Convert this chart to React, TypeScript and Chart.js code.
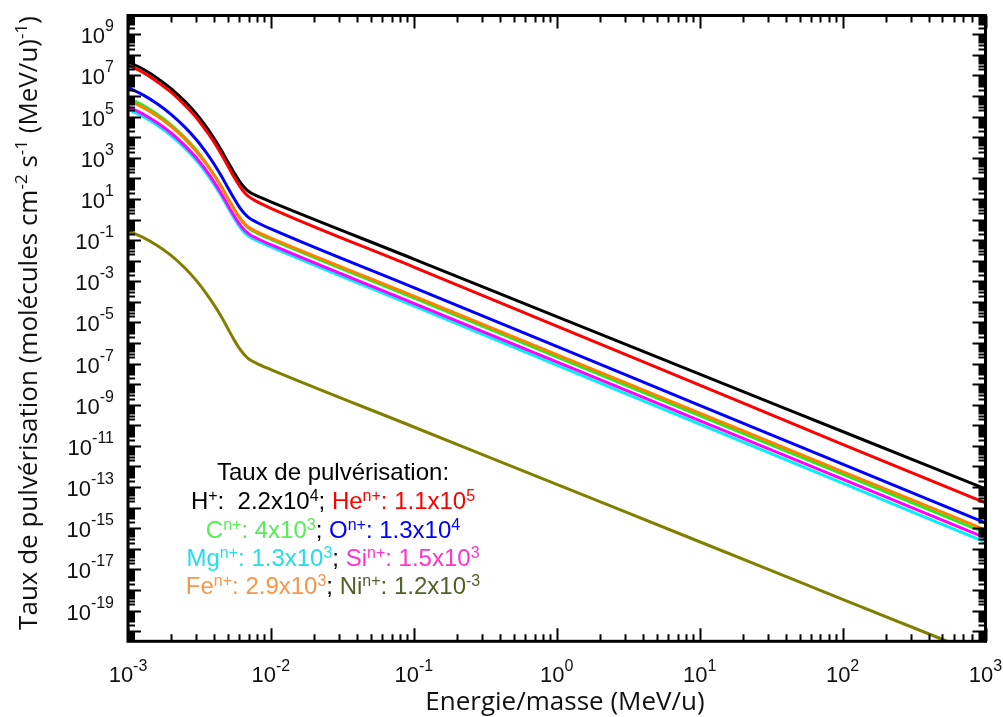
import React, { useEffect, useRef } from "react";
import { Chart, registerables } from "chart.js";

Chart.register(...registerables);

// ---------- data ----------
const energies = [1e-3, 1.3e-3, 1.6e-3, 2e-3, 2.5e-3, 3e-3, 3.5e-3, 4e-3, 4.5e-3, 5e-3, 5.5e-3, 6e-3, 6.5e-3, 7e-3, 8e-3, 1e-2, 1e-1, 1, 10, 100, 1000];

const rateH = [4.7e7, 1.9e7, 7.4e6, 2.3e6, 5.5e5, 1.4e5, 3.5e4, 8.9e3, 2.3e3, 6.3e2, 2.0e2, 7.6e1, 3.7e1, 2.3e1, 1.4e1, 7.2, 1.2e-2, 1.9e-5, 3.1e-8, 5.0e-11, 8.1e-14];
const rateHe = [3.2e7, 1.3e7, 5.0e6, 1.55e6, 3.6e5, 9.1e4, 2.2e4, 5.8e3, 1.5e3, 4.0e2, 1.2e2, 4.6e1, 2.1e1, 1.3e1, 7.4, 3.5, 4.9e-3, 6.6e-6, 8.9e-9, 1.2e-11, 1.7e-14];
const rateC = [8.3e5, 3.3e5, 1.3e5, 4.0e4, 9.5e3, 2.4e3, 5.9e2, 1.5e2, 4.0e1, 1.05e1, 3.3, 1.23, 6.0e-1, 3.7e-1, 2.2e-1, 1.1e-1, 1.55e-4, 2.1e-7, 3.0e-10, 4.2e-13, 5.9e-16];
const rateO = [2.6e6, 1.05e6, 4.2e5, 1.3e5, 3.1e4, 7.8e3, 1.95e3, 5.0e2, 1.3e2, 3.5e1, 1.1e1, 4.1, 2.0, 1.23, 7.2e-1, 3.5e-1, 4.9e-4, 6.8e-7, 9.3e-10, 1.3e-12, 1.8e-15];
const rateMg = [2.3e5, 9.3e4, 3.8e4, 1.2e4, 2.95e3, 7.6e2, 1.95e2, 5.1e1, 1.4e1, 3.8, 1.23, 4.8e-1, 2.4e-1, 1.55e-1, 9.3e-2, 4.7e-2, 6.3e-5, 8.5e-8, 1.15e-10, 1.55e-13, 2.1e-16];
const rateSi = [3.0e5, 1.23e5, 5.0e4, 1.6e4, 3.9e3, 1.0e3, 2.6e2, 6.8e1, 1.8e1, 5.0, 1.6, 6.3e-1, 3.2e-1, 2.0e-1, 1.2e-1, 6.0e-2, 8.5e-5, 1.2e-7, 1.7e-10, 2.4e-13, 3.4e-16];
const rateFe = [6.5e5, 2.6e5, 1.07e5, 3.4e4, 8.3e3, 2.1e3, 5.5e2, 1.45e2, 3.9e1, 1.07e1, 3.5, 1.35, 6.6e-1, 4.2e-1, 2.5e-1, 1.26e-1, 1.9e-4, 2.7e-7, 3.9e-10, 5.6e-13, 8.3e-16];
const rateNi = [2.8e-1, 1.26e-1, 5.5e-2, 1.8e-2, 4.4e-3, 1.1e-3, 2.75e-4, 7.1e-5, 1.9e-5, 5.0e-6, 1.5e-6, 5.6e-7, 2.75e-7, 1.66e-7, 1.0e-7, 5.1e-8, 8.3e-11, 1.35e-13, 2.2e-16, 3.5e-19, 5.75e-22];

const seriesNames = ["H+", "He n+", "C n+", "O n+", "Mg n+", "Si n+", "Fe n+", "Ni n+"];
const seriesColors = ["#000000", "#ff0000", "#22ee22", "#0000ff", "#00f0ff", "#ff00ff", "#ff8000", "#808000"];
const seriesRates = [rateH, rateHe, rateC, rateO, rateMg, rateSi, rateFe, rateNi];

const X_MIN = 1e-3;
const X_MAX = 1e3;
const Y_MIN = 3.2e-21;
const Y_MAX = 8.2e9;

const xLabelExponents = [-3, -2, -1, 0, 1, 2, 3];
const yLabelExponents = [9, 7, 5, 3, 1, -1, -3, -5, -7, -9, -11, -13, -15, -17, -19];

const xTitle = "Energie/masse (MeV/u)";
const legendTitle = "Taux de pulvérisation:";

// ---------- rich text helper ----------
type Seg = { t: string; sup?: boolean; c?: string };

function drawRich(
  ctx: CanvasRenderingContext2D,
  segs: Seg[],
  x: number,
  y: number,
  align: "left" | "center" | "right",
  baseFont: string,
  supFont: string,
  rise: number,
  defColor = "#000"
) {
  ctx.textAlign = "left";
  ctx.textBaseline = "alphabetic";
  const widths = segs.map((s) => {
    ctx.font = s.sup ? supFont : baseFont;
    return ctx.measureText(s.t).width;
  });
  const total = widths.reduce((a, b) => a + b, 0);
  let sx = align === "left" ? x : align === "center" ? x - total / 2 : x - total;
  segs.forEach((s, i) => {
    ctx.font = s.sup ? supFont : baseFont;
    ctx.fillStyle = s.c || defColor;
    ctx.fillText(s.t, sx, s.sup ? y - rise : y);
    sx += widths[i];
  });
}

const supText = (e: number) => (e < 0 ? "-" + Math.abs(e) : String(e));

const framePlugin = {
  id: "frameTicks",
  afterDatasetsDraw(chart: any) {
    const { ctx, chartArea: a, scales } = chart;
    const xs = scales.x;
    const ys = scales.y;
    ctx.save();
    ctx.strokeStyle = "#000";
    ctx.lineWidth = 2;
    ctx.beginPath();
    for (let e = -3; e <= 3; e++) {
      for (let m = 1; m <= 9; m++) {
        const v = m * Math.pow(10, e);
        if (v < X_MIN * 0.999 || v > X_MAX * 1.001) continue;
        const px = Math.round(xs.getPixelForValue(v)) + 0.5;
        const len = m === 1 ? 13 : 7;
        ctx.moveTo(px, a.bottom);
        ctx.lineTo(px, a.bottom - len);
        ctx.moveTo(px, a.top);
        ctx.lineTo(px, a.top + len);
      }
    }
    for (let e = -21; e <= 9; e++) {
      for (let m = 1; m <= 9; m++) {
        const v = m * Math.pow(10, e);
        if (v < Y_MIN || v > Y_MAX) continue;
        const py = Math.round(ys.getPixelForValue(v)) + 0.5;
        const len = m === 1 ? 13 : 7;
        ctx.moveTo(a.left, py);
        ctx.lineTo(a.left + len, py);
        ctx.moveTo(a.right, py);
        ctx.lineTo(a.right - len, py);
      }
    }
    ctx.stroke();
    ctx.lineWidth = 3;
    ctx.strokeRect(a.left, a.top, a.right - a.left, a.bottom - a.top);
    ctx.restore();
  },
  afterDraw(chart: any) {
    const { ctx, scales } = chart;
    const xs = scales.x;
    const ys = scales.y;
    ctx.save();
    const tickFont = '22px "Liberation Sans", Arial, sans-serif';
    const tickSup = '16px "Liberation Sans", Arial, sans-serif';
    yLabelExponents.forEach((e) => {
      const py = ys.getPixelForValue(Math.pow(10, e));
      drawRich(ctx, [{ t: "10" }, { t: supText(e), sup: true }], 114, py + 9, "right", tickFont, tickSup, 12, "#111");
    });
    xLabelExponents.forEach((e) => {
      const px = xs.getPixelForValue(Math.pow(10, e));
      drawRich(ctx, [{ t: "10" }, { t: supText(e), sup: true }], px, 682, "center", tickFont, tickSup, 11, "#111");
    });
    const titleFont = '26px "Open Sans", "Noto Sans", sans-serif';
    const titleSup = '17px "Open Sans", "Noto Sans", sans-serif';
    drawRich(ctx, [{ t: xTitle }], 565, 710, "center", titleFont, titleSup, 0, "#111");
    ctx.save();
    ctx.translate(37, 323);
    ctx.rotate(-Math.PI / 2);
    drawRich(
      ctx,
      [
        { t: "Taux de pulvérisation (molécules cm" },
        { t: "-2", sup: true },
        { t: " s" },
        { t: "-1", sup: true },
        { t: " (MeV/u)" },
        { t: "-1", sup: true },
        { t: ")" },
      ],
      0,
      0,
      "center",
      titleFont,
      titleSup,
      10,
      "#111"
    );
    ctx.restore();
    // legend block
    const lf = '24px "Liberation Sans", Arial, sans-serif';
    const ls = '16px "Liberation Sans", Arial, sans-serif';
    const [cH, cHe, cC, cO, cMg, cSi, cFe] = ["#000", "#ff0000", "#55ee55", "#0000ff", "#22ddee", "#ff33cc", "#f79646"];
    const cNi = "#4f6228";
    const cx = 333;
    drawRich(ctx, [{ t: legendTitle }], cx, 480, "center", lf, ls, 8);
    drawRich(
      ctx,
      [
        { t: "H", c: cH }, { t: "+", sup: true, c: cH }, { t: ":  2.2x10", c: cH }, { t: "4", sup: true, c: cH }, { t: "; ", c: cH },
        { t: "He", c: cHe }, { t: "n+", sup: true, c: cHe }, { t: ": 1.1x10", c: cHe }, { t: "5", sup: true, c: cHe },
      ],
      cx, 509, "center", lf, ls, 8
    );
    drawRich(
      ctx,
      [
        { t: "C", c: cC }, { t: "n+", sup: true, c: cC }, { t: ": 4x10", c: cC }, { t: "3", sup: true, c: cC }, { t: "; ", c: "#000" },
        { t: "O", c: cO }, { t: "n+", sup: true, c: cO }, { t: ": 1.3x10", c: cO }, { t: "4", sup: true, c: cO },
      ],
      cx, 538, "center", lf, ls, 8
    );
    drawRich(
      ctx,
      [
        { t: "Mg", c: cMg }, { t: "n+", sup: true, c: cMg }, { t: ": 1.3x10", c: cMg }, { t: "3", sup: true, c: cMg }, { t: "; ", c: "#000" },
        { t: "Si", c: cSi }, { t: "n+", sup: true, c: cSi }, { t: ": 1.5x10", c: cSi }, { t: "3", sup: true, c: cSi },
      ],
      cx, 566, "center", lf, ls, 8
    );
    drawRich(
      ctx,
      [
        { t: "Fe", c: cFe }, { t: "n+", sup: true, c: cFe }, { t: ": 2.9x10", c: cFe }, { t: "3", sup: true, c: cFe }, { t: "; ", c: "#000" },
        { t: "Ni", c: cNi }, { t: "n+", sup: true, c: cNi }, { t: ": 1.2x10", c: cNi }, { t: "-3", sup: true, c: cNi },
      ],
      cx, 594, "center", lf, ls, 8
    );
    ctx.restore();
  },
};

export default function App() {
  const ref = useRef<HTMLCanvasElement>(null);
  useEffect(() => {
    const canvas = ref.current;
    if (!canvas) return;
    const datasets = seriesRates.map((rates, i) => ({
      label: seriesNames[i],
      data: energies.map((x, j) => ({ x, y: rates[j] })),
      borderColor: seriesColors[i],
      backgroundColor: seriesColors[i],
      borderWidth: 3,
      pointRadius: 0,
      fill: false,
      cubicInterpolationMode: "monotone" as const,
      order: seriesRates.length - i,
    }));
    const chart = new Chart(canvas, {
      type: "line",
      data: { datasets },
      options: {
        responsive: false,
        animation: false,
        devicePixelRatio: 1,
        layout: { padding: { left: 128, right: 17.5, top: 15.5, bottom: 75.7 } },
        scales: {
          x: { type: "logarithmic", min: X_MIN, max: X_MAX, display: false },
          y: { type: "logarithmic", min: Y_MIN, max: Y_MAX, display: false },
        },
        plugins: { legend: { display: false }, tooltip: { enabled: false } },
      },
      plugins: [framePlugin],
    });
    return () => chart.destroy();
  }, []);
  return (
    <div style={{ position: "fixed", left: 0, top: 0, width: 1003, height: 717, background: "#fff" }}>
      <canvas ref={ref} width={1003} height={717} style={{ display: "block" }} />
    </div>
  );
}
